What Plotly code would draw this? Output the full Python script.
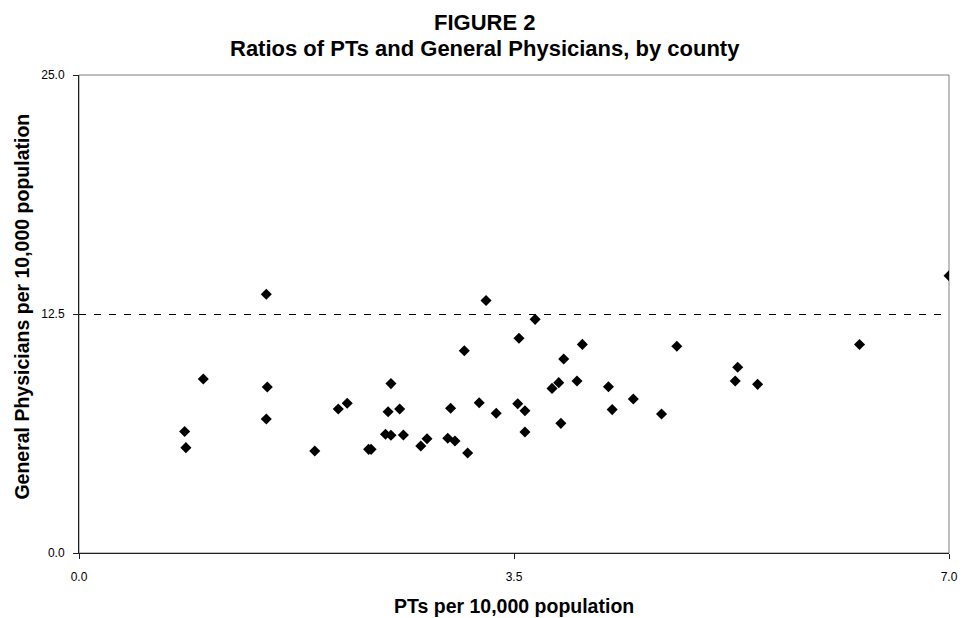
import plotly.graph_objects as go

pts_per_10k = [0.85, 0.86, 1.00, 1.507, 1.515, 1.507, 1.897, 2.086, 2.158, 2.33, 2.35,
               2.51, 2.487, 2.58, 2.466, 2.51, 2.61, 2.75, 2.80, 2.967, 3.025, 3.127,
               2.99, 3.10, 3.275, 3.67, 3.22, 3.357, 3.54, 3.53, 3.588, 3.588, 3.90,
               4.05, 3.806, 3.86, 4.007, 3.877, 4.26, 4.29, 4.46, 4.687, 4.81, 5.28,
               5.30, 5.46, 6.28, 7.00]
gp_per_10k = [6.35, 5.51, 9.10, 13.53, 8.68, 7.01, 5.33, 7.53, 7.83, 5.42, 5.42,
              8.86, 7.39, 7.53, 6.21, 6.16, 6.17, 5.60, 5.98, 6.00, 5.86, 5.23,
              7.57, 10.58, 13.21, 12.22, 7.86, 7.31, 11.23, 7.81, 7.44, 6.33, 10.15,
              10.91, 8.61, 8.91, 9.00, 6.78, 8.70, 7.50, 8.05, 7.27, 10.81, 9.00,
              9.71, 8.82, 10.90, 14.50]
x_ticks = [0.0, 3.5, 7.0]
y_ticks = [0.0, 12.5, 25.0]
y_gridlines = [12.5]

FONT = "Arial, Liberation Sans, sans-serif"

fig = go.Figure()
fig.add_trace(go.Scatter(
    x=pts_per_10k, y=gp_per_10k, mode="markers",
    marker=dict(symbol="diamond", size=8.5, color="black", line=dict(width=0)),
    showlegend=False, hoverinfo="x+y"))

# frame (top/right gray)
fig.add_shape(type="rect", xref="paper", yref="paper", x0=0, x1=1, y0=0, y1=1,
              line=dict(color="#808080", width=1), layer="below")

fig.update_layout(
    width=962, height=610,
    margin=dict(l=71, r=12, t=67, b=65),
    paper_bgcolor="white", plot_bgcolor="white",
    font=dict(family=FONT, size=12, color="black"),
)
fig.update_xaxes(range=[0, 7], tickvals=x_ticks, ticktext=[f"{v:.1f}" for v in x_ticks],
                 showgrid=False, zeroline=False, showline=True, linecolor="#202020",
                 linewidth=1, ticks="outside", ticklen=5, tickcolor="#202020",
                 ticklabelstandoff=8, tickfont=dict(family=FONT, size=12))
fig.update_yaxes(range=[0, 25], tickvals=y_ticks, ticktext=[f"{v:.1f}" for v in y_ticks],
                 showgrid=False, zeroline=False, showline=True, linecolor="#202020",
                 linewidth=1, ticks="outside", ticklen=5, tickcolor="#202020",
                 ticklabelstandoff=6, tickfont=dict(family=FONT, size=12),
                 minor=dict(tickvals=y_gridlines, showgrid=True, gridcolor="black",
                            gridwidth=1, griddash="7px,8px", ticks=""))

# chart title (two lines)
fig.add_annotation(text="<b>FIGURE 2</b>", xref="paper", yref="paper",
                   x=0.4664, y=1.1088, xanchor="center", yanchor="middle",
                   showarrow=False, font=dict(family=FONT, size=22, color="black"))
fig.add_annotation(text="<b>Ratios of PTs and General Physicians, by county</b>",
                   xref="paper", yref="paper", x=0.4664, y=1.0544,
                   xanchor="center", yanchor="middle", showarrow=False,
                   font=dict(family=FONT, size=22, color="black"))
# axis titles
fig.add_annotation(text="<b>PTs per 10,000 population</b>", xref="paper", yref="paper",
                   x=0.5, y=-0.1109, xanchor="center", yanchor="middle",
                   showarrow=False, font=dict(family=FONT, size=19.5, color="black"))
fig.add_annotation(text="<b>General Physicians per 10,000 population</b>", xref="paper",
                   yref="paper", x=-0.066, y=0.5146, xanchor="center",
                   yanchor="middle", textangle=-90, showarrow=False,
                   font=dict(family=FONT, size=19.5, color="black"))

fig.write_html("out.html")
